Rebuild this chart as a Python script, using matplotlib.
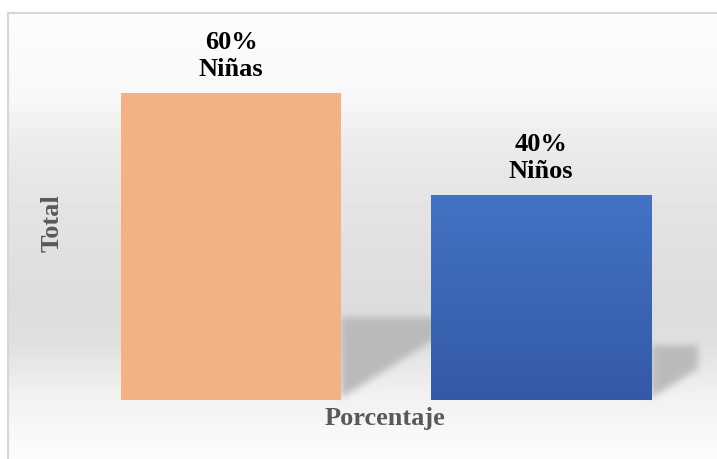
import numpy as np
import matplotlib
matplotlib.use('Agg')
import matplotlib.pyplot as plt
from matplotlib.path import Path
from matplotlib.colors import LinearSegmentedColormap

# data
categories = ['Niñas', 'Niños']
values = [60, 40]
pct_labels = ['60%', '40%']
colors = ['#F4B183', '#4472C4']

W, H = 717, 459
fig = plt.figure(figsize=(W / 100, H / 100), dpi=100)

# background with soft gradient
ax_bg = fig.add_axes([0, 0, 1, 1])
ax_bg.set_axis_off()
ax_bg.set_xlim(0, W)
ax_bg.set_ylim(H, 0)
rows = np.arange(H)
stops_y = [0, 13, 100, 140, 200, 300, 340, 360, 400, 459]
stops_v = [1, 0.99, 0.97, 0.925, 0.895, 0.865, 0.875, 0.9, 0.95, 0.99]
bg = np.repeat(np.interp(rows, stops_y, stops_v)[:, None], W, axis=1)

ax = fig.add_axes([76 / W, 59 / H, 620 / W, 358 / H])
ax.set_xlim(-0.5, 1.5)
ax.set_ylim(0, 70)
ax.set_autoscale_on(False)
ax.patch.set_alpha(0)
for s in ax.spines.values():
    s.set_visible(False)
ax.set_xticks([])
ax.set_yticks([])

bar_w = 0.71
x = np.arange(len(values))


def box_blur(a, r):
    for axis in (0, 1):
        pad = [(0, 0), (0, 0)]
        pad[axis] = (r + 1, r)
        p = np.pad(a, pad, mode='edge')
        c = np.cumsum(p, axis=axis)
        if axis == 0:
            a = (c[2 * r + 1:, :] - c[:-2 * r - 1, :]) / (2 * r + 1)
        else:
            a = (c[:, 2 * r + 1:] - c[:, :-2 * r - 1]) / (2 * r + 1)
    return a


# floor shadows behind the bars
mask = np.zeros((H, W))
yy, xx = np.mgrid[0:H, 0:W]
pts = np.column_stack([xx.ravel() + 0.5, H - yy.ravel() - 0.5])
for xi, v in zip(x, values):
    xr = xi + bar_w / 2
    top = 0.27 * v
    L = (v - 25) * 0.01
    poly = [(xr, 0.4), (xr, top), (xr + L, top), (xr + L, min(top, 0.4 + 38 * L))]
    disp = ax.transData.transform(poly)
    inside = Path(disp).contains_points(pts).reshape(H, W).astype(float)
    mask = np.maximum(mask, inside)
for _ in range(3):
    mask = box_blur(mask, 3)
bg = bg - (bg - 0.73) * mask
bg[:12, :] = 1
bg[:, :7] = 1
ax_bg.imshow(bg, cmap='gray', vmin=0, vmax=1, extent=[0, W, H, 0],
             aspect='auto', interpolation='nearest')
ax_bg.set_xlim(0, W)
ax_bg.set_ylim(H, 0)
ax_bg.plot([7.5, 7.5, W + 5], [H + 5, 12.5, 12.5], color='#d6d6d6', lw=1.5)

bars = ax.bar(x, values, width=bar_w, color=colors, zorder=2)

# gradient on the blue bar
blue_cmap = LinearSegmentedColormap.from_list('b', ['#335AA6', '#4472C4'])
b = bars[1]
grad = np.linspace(0, 1, 100)[:, None]
im = ax.imshow(grad, extent=[b.get_x(), b.get_x() + b.get_width(), 0, b.get_height()],
               origin='lower', cmap=blue_cmap, aspect='auto', zorder=3)
im.set_clip_path(b)
ax.set_xlim(-0.5, 1.5)
ax.set_ylim(0, 70)

for xi, v, p, c in zip(x, values, pct_labels, categories):
    ax.annotate(p + '\n' + c, (xi, v), xytext=(0, 9), textcoords='offset points',
                ha='center', va='bottom', fontsize=19, fontweight='bold',
                family='Liberation Serif', linespacing=1.22, color='black')

fig.text(385 / W, 1 - 418 / H, 'Porcentaje', ha='center', va='center', fontsize=19,
         fontweight='bold', family='Liberation Serif', color='#595959')
fig.text(52 / W, 1 - 223 / H, 'Total', ha='center', va='center', fontsize=19,
         rotation=90, fontweight='bold', family='Liberation Serif', color='#595959')

fig.savefig('out.png', dpi=100)
